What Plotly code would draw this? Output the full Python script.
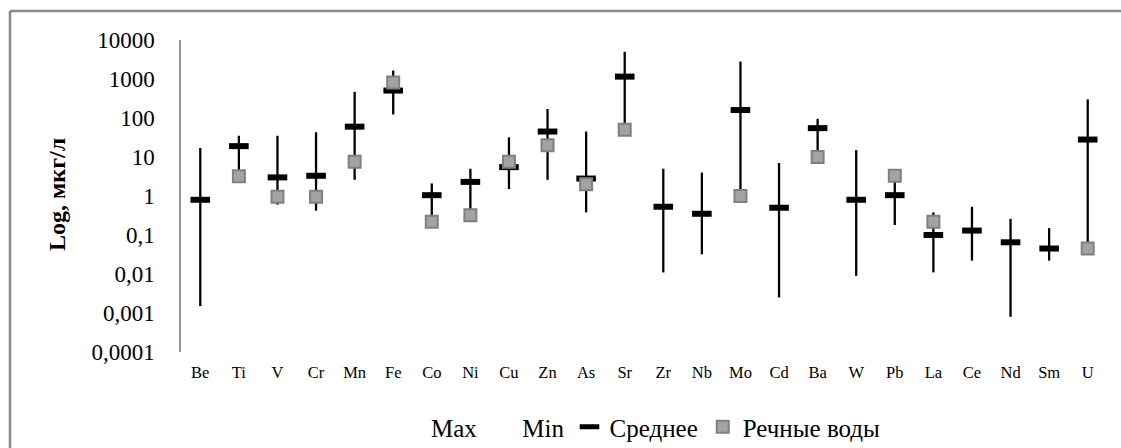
import plotly.graph_objects as go

elements = ["Be", "Ti", "V", "Cr", "Mn", "Fe", "Co", "Ni", "Cu", "Zn", "As", "Sr",
            "Zr", "Nb", "Mo", "Cd", "Ba", "W", "Pb", "La", "Ce", "Nd", "Sm", "U"]

max_vals = [17, 35, 35, 43, 470, 1650, 2.1, 5.0, 32, 170, 45, 5000,
            5.0, 4.0, 2800, 7.0, 95, 15, 3.2, 0.38, 0.53, 0.26, 0.15, 300]

min_vals = [0.0015, 3.0, 0.6, 0.42, 2.6, 123, 0.22, 0.32, 1.5, 2.6, 0.38, 50,
            0.011, 0.032, 1.0, 0.0025, 10, 0.009, 0.18, 0.011, 0.022, 0.0008, 0.022, 0.045]

mean_vals = [0.8, 19, 3.0, 3.3, 60, 505, 1.05, 2.3, 5.5, 45, 2.8, 1150,
             0.53, 0.35, 160, 0.5, 55, 0.8, 1.05, 0.1, 0.13, 0.065, 0.045, 28]

river_vals = [None, 3.2, 0.95, 0.95, 7.5, 810, 0.22, 0.32, 7.5, 20, 2.0, 50,
              None, None, 1.0, None, 10, None, 3.3, 0.22, None, None, None, 0.045]

y_tickvals = [0.0001, 0.001, 0.01, 0.1, 1, 10, 100, 1000, 10000]
y_ticktext = ["0,0001", "0,001", "0,01", "0,1", "1", "10", "100", "1000", "10000"]

FONT = "Liberation Serif"

# high-low lines built from the Max / Min series
hl_x, hl_y = [], []
for e, hi, lo in zip(elements, max_vals, min_vals):
    hl_x += [e, e, None]
    hl_y += [hi, lo, None]

fig = go.Figure()

fig.add_trace(go.Scatter(
    x=hl_x, y=hl_y, mode="lines", line=dict(color="black", width=2.3),
    showlegend=False, hoverinfo="skip"))

fig.add_trace(go.Scatter(
    x=elements, y=max_vals, mode="markers", name="Max",
    marker=dict(color="rgba(0,0,0,0)", size=1)))
fig.add_trace(go.Scatter(
    x=elements, y=min_vals, mode="markers", name="Min",
    marker=dict(color="rgba(0,0,0,0)", size=1)))

fig.add_trace(go.Scatter(
    x=elements, y=mean_vals, mode="markers", name="Среднее",
    marker=dict(symbol="line-ew", size=14, color="black",
                line=dict(color="black", width=6))))

fig.add_trace(go.Scatter(
    x=elements, y=river_vals, mode="markers", name="Речные воды",
    marker=dict(symbol="square", size=12, color="#a3a3a3",
                line=dict(color="#808080", width=2))))

L, R, T, B = 181, 14, 40, 96
W, H = 1121, 448
pw, ph = W - L - R, H - T - B

def px(x):
    return (x - L) / pw

def py(y):
    return (H - B - y) / ph

fig.update_layout(
    width=W, height=H,
    margin=dict(l=L, r=R, t=T, b=B, autoexpand=False),
    paper_bgcolor="white", plot_bgcolor="white",
    font=dict(family=FONT, color="black"),
    showlegend=True,
    legend=dict(orientation="h", xref="container", yref="container",
                x=391 / W, y=1 - 427 / H, xanchor="left", yanchor="middle",
                font=dict(size=25, family=FONT), bgcolor="rgba(0,0,0,0)",
                traceorder="normal"),
    xaxis=dict(type="category", range=[-0.5, len(elements) - 0.5],
               showgrid=False, showline=False, zeroline=False,
               ticks="", tickfont=dict(size=16.5, family=FONT),
               ticklabelstandoff=8, fixedrange=True, automargin=False),
    yaxis=dict(type="log", range=[-4, 4], showgrid=False, zeroline=False,
               showline=True, linecolor="#999999", linewidth=1.5,
               tickvals=y_tickvals, ticktext=y_ticktext, ticks="",
               tickfont=dict(size=23, family=FONT), ticklabelstandoff=20,
               automargin=False),
    annotations=[dict(text="<b>Log, мкг/л</b>", textangle=-90, xref="paper", yref="paper",
                      x=px(57), y=py(194), xanchor="center", yanchor="middle",
                      showarrow=False, font=dict(size=24, family=FONT, color="black"))],
    shapes=[
        dict(type="line", xref="paper", yref="paper", x0=px(10), x1=px(1125),
             y0=py(11), y1=py(11), line=dict(color="#8a8a8a", width=2.5)),
        dict(type="line", xref="paper", yref="paper", x0=px(10), x1=px(10),
             y0=py(11), y1=py(455), line=dict(color="#8a8a8a", width=2.5)),
    ],
)

fig.write_html("out.html", config={"displayModeBar": False},
               post_script="document.body.style.margin='0';")
